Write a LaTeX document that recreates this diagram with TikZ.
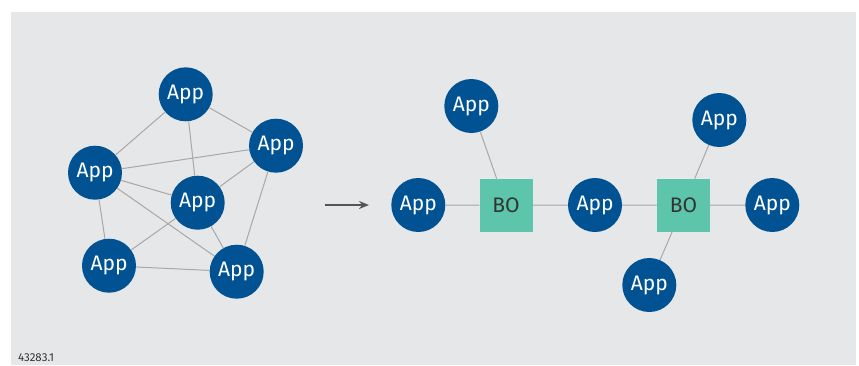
\documentclass[tikz,border=0pt]{standalone}
\usepackage{fontspec}
\setmainfont{Fira Sans}
\usetikzlibrary{arrows.meta}
\definecolor{appblue}{RGB}{0,82,147}
\definecolor{boteal}{RGB}{92,197,171}
\definecolor{bggray}{RGB}{230,231,232}
\definecolor{linkgray}{RGB}{168,168,168}
\definecolor{arrowgray}{RGB}{85,85,85}
\begin{document}
\begin{tikzpicture}[x=1pt, y=-1pt,
	app/.style={circle, fill=appblue, text=white, minimum size=54pt, inner sep=0pt, font=\fontsize{21}{24}\selectfont},
	bo/.style={rectangle, fill=boteal, text=black!80, minimum size=53pt, inner sep=0pt, font=\fontsize{21}{24}\selectfont},
	link/.style={draw=linkgray, line width=1pt}]
	\useasboundingbox (0,0) rectangle (859,365);
	\fill[bggray] (11,12) rectangle (856,365);
	% left: every app linked to others
	\node[app] (a1) at (185.7,94.3)  {App};
	\node[app] (a2) at (276,145.7)   {App};
	\node[app] (a3) at (95,172.7)    {App};
	\node[app] (a4) at (197.7,202.7) {App};
	\node[app] (a5) at (109,265.7)   {App};
	\node[app] (a6) at (236.7,271.7) {App};
	\draw[link] (a1) -- (a3) (a1) -- (a2) (a1) -- (a4);
	\draw[link] (a3) -- (a2) (a3) -- (a4) (a3) -- (a6) (a3) -- (a5);
	\draw[link] (a2) -- (a4) (a2) -- (a6);
	\draw[link] (a4) -- (a5) (a4) -- (a6) (a5) -- (a6);
	% arrow
	\coordinate (arrs) at (325,205);
	\coordinate (arre) at (369,205);
	\draw[arrowgray, line width=2pt, -{Stealth[length=10pt, width=8pt]}] (arrs) -- (arre);
	% right: apps through BOs
	\node[bo]  (bo1) at (506,205.3)   {BO};
	\node[bo]  (bo2) at (683.5,205.3) {BO};
	\node[app] (b1)  at (418.3,205)   {App};
	\node[app] (b2)  at (471.3,106)   {App};
	\node[app] (b3)  at (595,205)     {App};
	\node[app] (b4)  at (719.3,120)   {App};
	\node[app] (b5)  at (772.3,205)   {App};
	\node[app] (b6)  at (649.3,285)   {App};
	\draw[link] (b1) -- (bo1) (b2) -- (bo1) (bo1) -- (b3);
	\draw[link] (b3) -- (bo2) (b4) -- (bo2) (bo2) -- (b5) (b6) -- (bo2);
	\node[anchor=base west, text=black!80, font=\fontsize{11.5}{13}\selectfont, inner sep=0pt] (fig) at (18,361.5) {43283.1};
\end{tikzpicture}
\end{document}
